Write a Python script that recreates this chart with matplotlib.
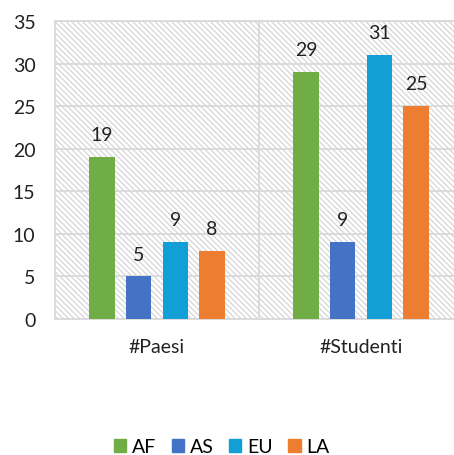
import matplotlib
matplotlib.use("Agg")
import matplotlib.pyplot as plt
import numpy as np
from matplotlib.patches import Rectangle

categories = ["#Paesi", "#Studenti"]
series = ["AF", "AS", "EU", "LA"]
values = {
    "AF": [19, 29],
    "AS": [5, 9],
    "EU": [9, 31],
    "LA": [8, 25],
}
colors = {"AF": "#70AD47", "AS": "#4472C4", "EU": "#119FD6", "LA": "#ED7D31"}
yticks = [0, 5, 10, 15, 20, 25, 30, 35]

plt.rcParams['font.family'] = ['Lato', 'DejaVu Sans']
plt.rcParams['hatch.linewidth'] = 0.9
plt.rcParams['hatch.color'] = '#d6d6d6'

W, H = 454, 456
fig = plt.figure(figsize=(W/100, H/100), dpi=100)
left, right, top, bottom = 55, 463, 22, 320
ax = fig.add_axes([left/W, 1-bottom/H, (right-left)/W, (bottom-top)/H])
ax.set_xlim(0, 2)
ax.set_ylim(0, 35)

# hatched background
bg = Rectangle((0, 0), 1, 1, transform=ax.transAxes, facecolor='white',
               edgecolor='#d6d6d6', hatch='\\\\\\\\\\\\', linewidth=0, zorder=0)
ax.add_patch(bg)

for y in yticks:
    ax.axhline(y, color='#d9d9d9', lw=1.3, zorder=1)
ax.axvline(1, color='#d9d9d9', lw=1.3, zorder=1)

step = 0.18
width = 0.126
x = np.arange(len(categories)) + 0.5
for i, s in enumerate(series):
    xs = x + (i - 1.5) * step
    ax.bar(xs, values[s], width=width, color=colors[s], label=s, zorder=3)
    for xi, v in zip(xs, values[s]):
        ax.annotate(str(v), (xi, v), xytext=(0, 10), textcoords='offset points',
                    ha='center', va='bottom', fontsize=14, color='#222222')

for sp in ax.spines.values():
    sp.set_color('#d9d9d9')
    sp.set_linewidth(1.3)
ax.set_yticks(yticks)
ax.set_yticklabels([str(t) for t in yticks], fontsize=14, color='#222222')
ax.tick_params(axis='y', length=0, pad=14)
ax.set_xticks(x)
ax.set_xticklabels(categories, fontsize=14, color='#222222')
ax.tick_params(axis='x', length=0, pad=14)

handles = [Rectangle((0, 0), 1, 1, color=colors[s]) for s in series]
fig.legend(handles, series, loc='center', bbox_to_anchor=(0.489, 1-448/H),
           ncol=4, frameon=False, fontsize=14, handlelength=0.62, handleheight=0.62,
           handletextpad=0.3, columnspacing=0.8)

fig.savefig("out.png", dpi=100)
